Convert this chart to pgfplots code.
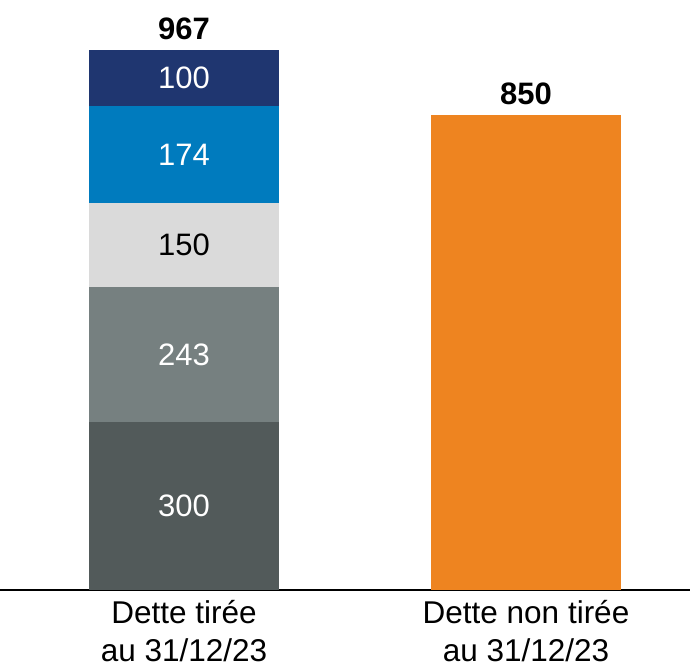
\documentclass[border=0pt]{standalone}
\usepackage{pgfplots}
\pgfplotsset{compat=1.18}
\usepackage{fontspec}
\setmainfont{Liberation Sans}
\definecolor{cNavy}{HTML}{1F3670}
\definecolor{cBlue}{HTML}{007BBE}
\definecolor{cLight}{HTML}{DADADA}
\definecolor{cMid}{HTML}{768080}
\definecolor{cDark}{HTML}{525A5A}
\definecolor{cOrange}{HTML}{EE8420}
\pgfplotsset{
  base/.style={
    scale only axis, width=345pt, height=295pt,
    xmin=0, xmax=690, ymin=0, ymax=1056.5,
    clip=false,
  },
  lbl/.style={draw=none, mark=none, nodes near coords, point meta=explicit symbolic,
    every node near coord/.style={anchor=center, font=\fontsize{15.5}{18}\selectfont, text=#1}},
}
\begin{document}
\begin{tikzpicture}
\begin{axis}[base,
  ybar stacked, bar width=95pt,
  axis x line=bottom, axis y line=none,
  axis line style={line width=0.8pt, -},
  xtick={184,526},
  xticklabels={{Dette tirée\\au 31/12/23},{Dette non tirée\\au 31/12/23}},
  xticklabel style={align=center, font=\fontsize{15.75}{19}\selectfont, yshift=-1.8pt},
  major tick length=0pt,
  ytick=\empty,
]
\addplot[fill=cDark, draw=none] coordinates {(184,300) (526,0)};
\addplot[fill=cMid, draw=none] coordinates {(184,243) (526,0)};
\addplot[fill=cLight, draw=none] coordinates {(184,150) (526,0)};
\addplot[fill=cBlue, draw=none] coordinates {(184,174) (526,0)};
\addplot[fill=cNavy, draw=none] coordinates {(184,100) (526,0)};
\addplot[fill=cOrange, draw=none] coordinates {(184,0) (526,850)};
\end{axis}
\begin{axis}[base, hide axis]
\addplot[lbl=white] coordinates {(184,150)[300] (184,421.5)[243] (184,780)[174] (184,917)[100]};
\addplot[lbl=black] coordinates {(184,618)[150]};
\addplot[draw=none, mark=none, nodes near coords, point meta=explicit symbolic,
  every node near coord/.style={anchor=south, font=\fontsize{15.5}{18}\selectfont\bfseries, text=black, inner sep=2pt, yshift=3pt}]
  coordinates {(184,967)[967] (526,850)[850]};
\end{axis}
\pgfresetboundingbox
\path (0,-38pt) rectangle (345pt,295pt);
\end{tikzpicture}
\end{document}
